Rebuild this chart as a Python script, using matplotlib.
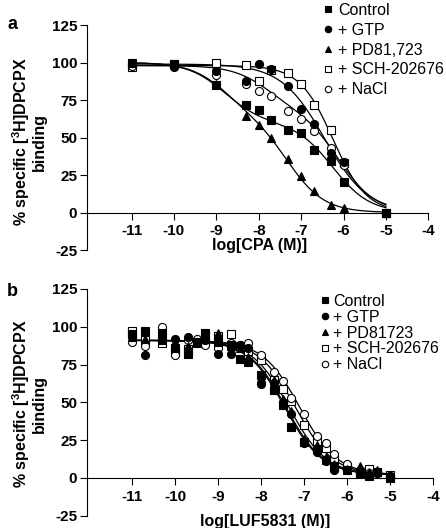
import numpy as np
import matplotlib
matplotlib.use("Agg")
import matplotlib.pyplot as plt

plt.rcParams['font.family'] = ['Liberation Sans', 'DejaVu Sans']
plt.rcParams['axes.unicode_minus'] = False
plt.rcParams['mathtext.fontset'] = 'custom'
plt.rcParams['mathtext.rm'] = 'Liberation Sans'
plt.rcParams['mathtext.bf'] = 'Liberation Sans:bold'

# ---- panel a: CPA displacement ----
labels_a = ['Control', '+ GTP', '+ PD81,723', '+ SCH-202676', '+ NaCl']
log_cpa = [-11, -10, -9, -8.3, -8, -7.7, -7.3, -7, -6.7, -6.3, -6, -5]
control_a = [100, 99, 85, 71.5, 68.5, 62, 55, 53.3, 42, 34.5, 20.5, 0]
gtp_a = [100, 96.7, 94.5, 88, 99, 96, 84.5, 69, 59, 40, 34, 0]
pd_a = [100, 99, 86, 64.5, 58.5, 50, 35.6, 24.5, 14.5, 5, 3.3, 0]
sch_a = [97, 99, 100, 98.5, 88, 95, 93, 85.5, 71.5, 55, 33, 0]
nacl_a = [98, 98, 92, 86, 81, 77.8, 67.8, 62.2, 54.5, 43.3, 32, 0]

# fitted curves (two-site / one-site)
fit_a_top = [100, 99, 100, 98, 98]
fit_a_frac_high = [0.4, 0.0, 0.35, 0.0, 0.3]
fit_a_log_high = [-8.8, -8.8, -8.8, -8.8, -7.8]
fit_a_log_low = [-6.25, -6.45, -7.3, -6.25, -6.1]
fit_a_hill = [1.0, 0.85, 1.0, 1.1, 1.0]

# ---- panel b: LUF5831 displacement ----
labels_b = ['Control', '+ GTP', '+ PD81723', '+ SCH-202676', '+ NaCl']
log_luf = [-11, -10.7, -10.3, -10, -9.7, -9.5, -9.3, -9, -8.7, -8.5, -8.3, -8,
           -7.7, -7.5, -7.3, -7, -6.7, -6.5, -6.3, -6, -5.7, -5.5, -5.3, -5]
control_b = [95, 97, 96, 86, 82, 90, 96, 90, 88, 79, 77, 68,
             58, 48, 34, 24, 19, 12, 7, 5, 3, 1, 4, 0]
gtp_b = [93, 81, 92, 92, 93, 90, 91, 82, 82, 88, 86, 62,
         63, 50, 42, 23, 17, 11, 5, 5, 3, 2, 3, 1]
pd_b = [93, 92, 91, 90, 87, 90, 92, 96, 87, 86, 80, 66,
        65, 52, 44, 26, 22, 14, 9, 6, 8, 4, 5, 1]
sch_b = [97, 91, 89, 83, 85, 89, 91, 94, 95, 87, 84, 78,
         65, 59, 51, 35, 24, 20, 13, 7, 4, 6, 4, 2]
nacl_b = [90, 87, 100, 81, 91, 92, 88, 86, 89, 88, 89, 81,
          70, 64, 53, 42, 28, 23, 16, 9, 5, 3, 3, 1]

fit_b_top = [91, 91, 91, 91, 91]
fit_b_bottom = [2, 2, 2, 2, 2]
fit_b_log_ic50 = [-7.45, -7.42, -7.35, -7.2, -7.1]

x_ticks = [-11, -10, -9, -8, -7, -6, -5, -4]
y_ticks = [-25, 0, 25, 50, 75, 100, 125]

markers = ['s', 'o', '^', 's', 'o']
faces = ['black', 'black', 'black', 'white', 'white']
sizes = [5.8, 5.8, 5.2, 5.8, 5.8]


def binding(x, top, bottom, frac_high, log_high, log_low, hill):
    high = frac_high / (1 + 10 ** (hill * (x - log_high)))
    low = (1 - frac_high) / (1 + 10 ** (hill * (x - log_low)))
    return bottom + (top - bottom) * (high + low)


def style_axes(ax, xlabel, xlabel_x, xlabel_y):
    ax.set_xlim(-12.05, -4)
    ax.set_ylim(-25, 125)
    ax.spines['bottom'].set_position(('data', 0))
    ax.spines['top'].set_visible(False)
    ax.spines['right'].set_visible(False)
    for s in ['left', 'bottom']:
        ax.spines[s].set_linewidth(0.8)
    ax.set_xticks(x_ticks)
    ax.set_yticks(y_ticks)
    ax.set_xticklabels([str(t) for t in x_ticks], fontweight='bold', fontsize=11)
    ax.set_yticklabels([str(t) for t in y_ticks], fontweight='bold', fontsize=11)
    ax.tick_params(axis='y', direction='out', length=5, width=0.8, pad=2)
    ax.tick_params(axis='x', direction='out', length=5, width=0.8, pad=3.5)
    ax.set_xlabel(xlabel, fontweight='bold', fontsize=11.5)
    ax.xaxis.set_label_coords(xlabel_x, xlabel_y)


fig = plt.figure(figsize=(4.46, 5.28), dpi=100)
ax_a = fig.add_axes([87 / 446, 0.5265, 341.3 / 446, 0.4261])
ax_b = fig.add_axes([87 / 446, 0.0233, 346.3 / 446, 0.4294])

x_fit = np.linspace(-11, -5, 300)

# panel a
data_a = [control_a, gtp_a, pd_a, sch_a, nacl_a]
for i in range(5):
    y_fit = binding(x_fit, fit_a_top[i], 0, fit_a_frac_high[i],
                    fit_a_log_high[i], fit_a_log_low[i], fit_a_hill[i])
    ax_a.plot(x_fit, y_fit, color='black', lw=0.9, zorder=2)
handles_a = [None] * 5
for i in [3, 4, 0, 1, 2]:  # open markers underneath the filled ones
    handles_a[i], = ax_a.plot(log_cpa, data_a[i], ls='none', marker=markers[i],
                              ms=sizes[i], mfc=faces[i], mec='black', mew=0.8,
                              label=labels_a[i], zorder=3)
style_axes(ax_a, 'log[CPA (M)]', 0.505, 0.055)
ax_a.legend(handles=handles_a, loc='upper left', frameon=False,
            bbox_to_anchor=(323 / 446, 1 - 3 / 528), bbox_transform=fig.transFigure,
            borderaxespad=0, borderpad=0, handlelength=0.6, handletextpad=0.35,
            labelspacing=0.3, fontsize=11.5, markerscale=0.8)

# panel b
data_b = [control_b, gtp_b, pd_b, sch_b, nacl_b]
for i in range(5):
    y_fit = binding(x_fit, fit_b_top[i], fit_b_bottom[i], 0.0,
                    fit_b_log_ic50[i], fit_b_log_ic50[i], 1.0)
    ax_b.plot(x_fit, y_fit, color='black', lw=0.9, zorder=2)
handles_b = [None] * 5
for i in [3, 4, 0, 1, 2]:
    handles_b[i], = ax_b.plot(log_luf, data_b[i], ls='none', marker=markers[i],
                              ms=sizes[i], mfc=faces[i], mec='black', mew=0.8,
                              label=labels_b[i], zorder=3)
style_axes(ax_b, 'log[LUF5831 (M)]', 0.514, 0.008)
ax_b.legend(handles=handles_b, loc='upper left', frameon=False,
            bbox_to_anchor=(320 / 446, 1 - 294 / 528), bbox_transform=fig.transFigure,
            borderaxespad=0, borderpad=0, handlelength=0.6, handletextpad=0.2,
            labelspacing=0.05, fontsize=11.5, markerscale=0.8)

ylab = '% specific [$^{\\mathbf{3}}$H]DPCPX\nbinding'
fig.text(28.5 / 446, 1 - 141.5 / 528, ylab, rotation=90, ha='center', va='center',
         multialignment='center', fontweight='bold', fontsize=11.5, linespacing=0.95)
fig.text(28.5 / 446, 1 - 404 / 528, ylab, rotation=90, ha='center', va='center',
         multialignment='center', fontweight='bold', fontsize=11.5, linespacing=0.95)

fig.text(7 / 446, 1 - 29 / 528, 'a', fontweight='bold', fontsize=13)
fig.text(7 / 446, 1 - 296 / 528, 'b', fontweight='bold', fontsize=13)

fig.savefig('out.png', dpi=100)
